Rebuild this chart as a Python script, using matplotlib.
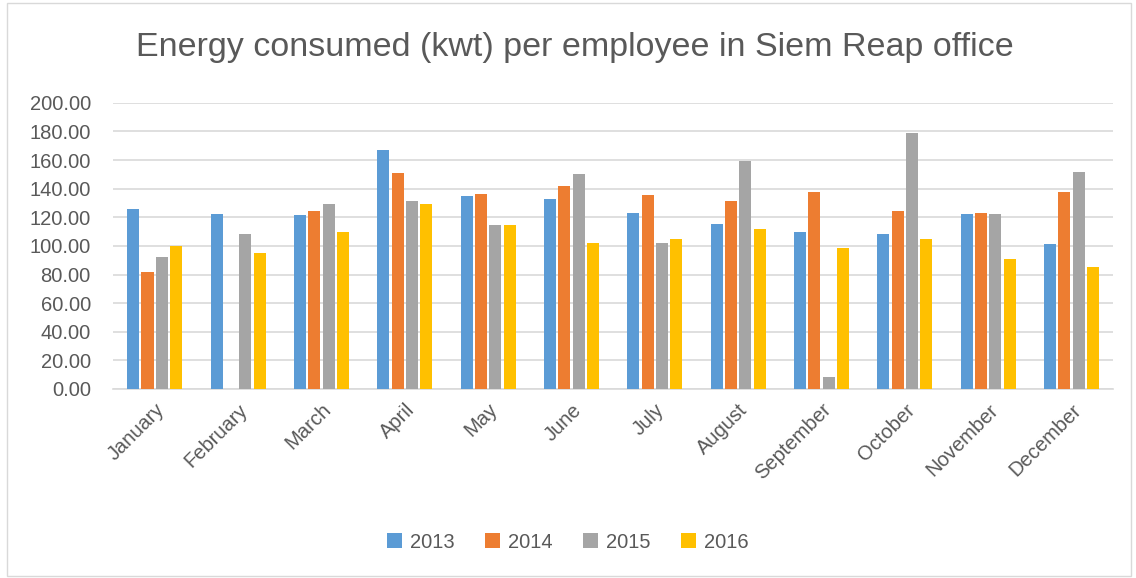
import numpy as np
import matplotlib.pyplot as plt
from matplotlib.patches import Rectangle

# meses y valores (kwt por empleado)
months = ['January', 'February', 'March', 'April', 'May', 'June',
          'July', 'August', 'September', 'October', 'November', 'December']
years = ['2013', '2014', '2015', '2016']

v2013 = [125.6, 122.1, 121.7, 166.9, 134.7, 133.1, 122.8, 115.6, 109.8, 108.2, 122.1, 101.6]
v2014 = [81.8, 0.0, 124.5, 151.0, 136.6, 142.0, 135.4, 131.2, 137.5, 124.2, 123.3, 137.5]
v2015 = [92.5, 108.2, 129.1, 131.5, 114.9, 150.1, 102.1, 159.7, 8.2, 178.6, 122.4, 151.5]
v2016 = [100.2, 95.3, 109.8, 129.4, 114.5, 102.1, 105.1, 111.9, 98.4, 104.9, 90.9, 85.5]

series = [v2013, v2014, v2015, v2016]
colors = ['#5B9BD5', '#ED7D31', '#A5A5A5', '#FFC000']

plt.rcParams['font.family'] = ['Liberation Sans', 'DejaVu Sans']
txt = '#595959'

fig = plt.figure(figsize=(11.36, 5.78), dpi=100)
ax = fig.add_axes([0.0995, 0.327, 0.8805, 0.495])

x = np.arange(len(months))
slot = 0.172
for i, (vals, c) in enumerate(zip(series, colors)):
    ax.bar(x + (i - 1.5) * slot, vals, width=0.145, color=c, label=years[i], zorder=3)

ax.set_xlim(-0.5, 11.5)
ax.set_ylim(0, 200)
ax.set_yticks(np.arange(0, 201, 20))
ax.set_yticklabels([f'{v:.2f}' for v in np.arange(0, 201, 20)])
ax.yaxis.grid(True, color='#D9D9D9', linewidth=1.2, zorder=0)
ax.set_axisbelow(True)
for s in ['top', 'right', 'left']:
    ax.spines[s].set_visible(False)
ax.spines['bottom'].set_color('#D9D9D9')
ax.spines['bottom'].set_linewidth(1.2)
ax.tick_params(axis='both', length=0, labelsize=14.5, labelcolor=txt)
ax.tick_params(axis='y', pad=16)
ax.tick_params(axis='x', pad=8)
ax.set_xticks(x)
ax.set_xticklabels(months, rotation=45, ha='right', rotation_mode='anchor')

fig.text(0.506, 0.917, 'Energy consumed (kwt) per employee in Siem Reap office',
         ha='center', va='center', fontsize=24.5, color=txt)

leg = fig.legend(loc='center', bbox_to_anchor=(0.5, 0.062), ncol=4, frameon=False,
                 fontsize=14.5, handlelength=0.75, handleheight=0.75, columnspacing=1.5,
                 handletextpad=0.4)
for t in leg.get_texts():
    t.set_color(txt)

# borde del grafico
fig.patches.append(Rectangle((0.006, 0.004), 0.99, 0.99, transform=fig.transFigure,
                             fill=False, edgecolor='#D9D9D9', linewidth=1))

fig.savefig('out.png', dpi=100)
